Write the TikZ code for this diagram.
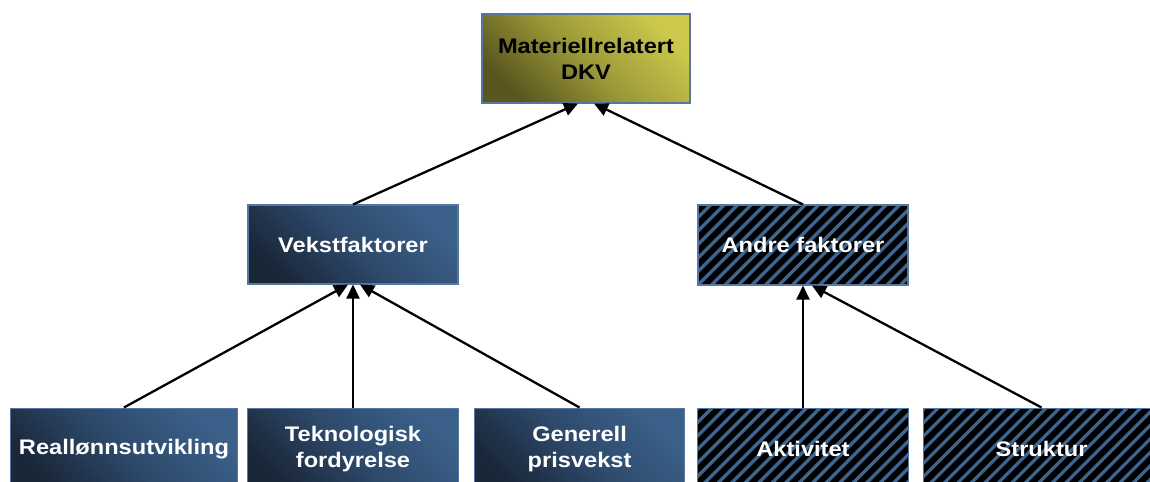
\documentclass[tikz,border=0pt]{standalone}
\usepackage{fontspec}
\setmainfont{Liberation Sans}[FakeStretch=1.12]
\usetikzlibrary{positioning}
\usetikzlibrary{arrows.meta}
\definecolor{olivedark}{HTML}{5A5620}
\definecolor{olivemid}{HTML}{9C9A38}
\definecolor{olivelight}{HTML}{CBC84C}
\definecolor{navydark}{HTML}{1A2739}
\definecolor{navymid}{HTML}{2E4A6C}
\definecolor{navylight}{HTML}{3B6089}
\definecolor{edgeblue}{HTML}{5677A0}
\definecolor{stripe}{HTML}{3D6590}

\begin{document}
\begin{tikzpicture}[box/.style = {draw=edgeblue, line width=0.6pt, inner sep=0pt, align=center, font=\bfseries\fontsize{12}{14.8}\selectfont},
    goal/.style = {box, top color=olivelight, bottom color=olivedark, middle color=olivemid, shading angle=-45, text=black},
    factor/.style = {box, top color=navylight, bottom color=navydark, middle color=navymid, shading angle=-45, text=white},
    hatched/.style = {box, fill=black, text=white, path picture={
        \foreach \i in {-8,...,20}
          \draw[stripe, line width=1.9pt] ([xshift=\i*0.27cm]path picture bounding box.south west) -- ++(2cm,2cm);}},
    link/.style = {line width=1.3pt, -{Triangle[length=0.28cm, width=0.26cm]}}]
            \clip (0,0) rectangle (23,-9.64);
            \node[goal, minimum width=4.16cm, minimum height=1.78cm](dkv) at (11.72,-1.17){Materiellrelatert\\DKV};
            \node[factor, minimum width=4.2cm, minimum height=1.58cm](vekst) at (7.06,-4.89){Vekstfaktorer};
            \node[hatched, minimum width=4.2cm, minimum height=1.6cm](andre) at (16.06,-4.9){Andre faktorer};
            \node[factor, minimum width=4.22cm, minimum height=1.64cm](tekno)[below =2.46cm of vekst]{Teknologisk\\fordyrelse};
            \node[factor, minimum width=4.54cm, minimum height=1.64cm](real)[left =0.18cm of tekno]{Reallønnsutvikling};
            \node[factor, minimum width=4.2cm, minimum height=1.64cm](gen)[right =0.3cm of tekno]{Generell\\prisvekst};
            \node[hatched, minimum width=4.22cm, minimum height=1.64cm](akt)[below =2.44cm of andre]{Aktivitet};
            \node[hatched, minimum width=4.72cm, minimum height=1.64cm](strukt)[right =0.28cm of akt]{Struktur};
            \draw[link] (vekst.north) -- ([xshift=-0.16cm]dkv.south);
            \draw[link] (andre.north) -- ([xshift=0.16cm]dkv.south);
            \draw[link] (real.north) -- ([xshift=-0.1cm]vekst.south);
            \draw[link] (tekno.north) -- (vekst.south);
            \draw[link] (gen.north) -- ([xshift=0.14cm]vekst.south);
            \draw[link] (akt.north) -- (andre.south);
            \draw[link] (strukt.north) -- ([xshift=0.18cm]andre.south);
        \end{tikzpicture}
\end{document}
